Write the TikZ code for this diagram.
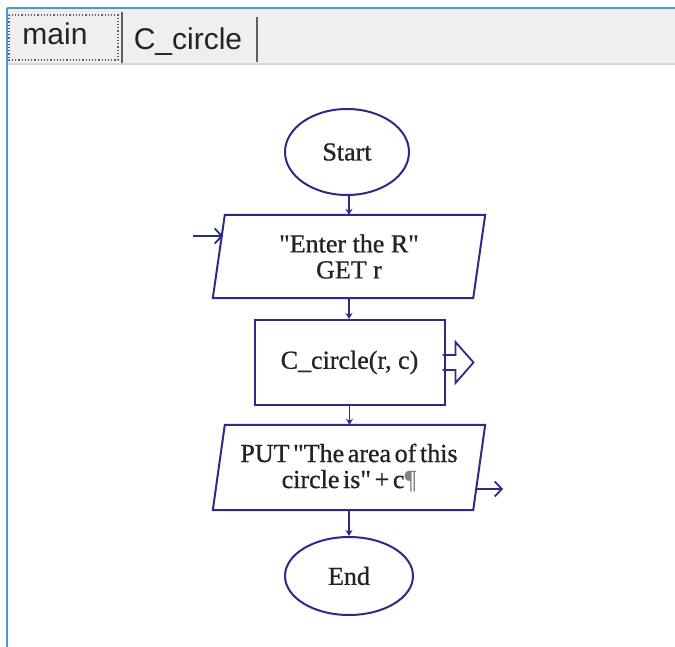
\documentclass[tikz,border=0pt]{standalone}
\usepackage{fontspec}
\setmainfont{Liberation Serif}[Ligatures=TeXOff]
\newfontfamily\flowfont{Liberation Serif}[Ligatures=TeXOff, FakeBold=0.8]
\newfontfamily\tabfont{Liberation Sans}
\usetikzlibrary{arrows.meta,shapes.geometric,calc}
\definecolor{navy}{RGB}{44,44,132}
\definecolor{winblue}{RGB}{75,150,215}
\definecolor{tabgray}{RGB}{239,239,239}
\definecolor{tabline}{RGB}{215,215,215}
\definecolor{tabedge}{RGB}{95,95,95}
\definecolor{inktext}{RGB}{35,35,35}
\newcommand\tightsp{\spaceskip=0.14em plus 0.05em\relax}
\begin{document}
\begin{tikzpicture}[x=1pt,y=-1pt,
  shapeline/.style={draw=navy,line width=2pt},
  flow/.style={draw=navy,line width=1.8pt,-{Stealth[length=6pt,width=7pt]}},
  openarrow/.style={draw=navy,line width=1.8pt,-{Straight Barb[length=7pt,width=15pt]}},
  ftext/.style={font=\flowfont\fontsize{26}{26}\selectfont, align=center, text=inktext},
  term/.style={ellipse, shapeline, ftext, inner sep=0pt},
  tabtext/.style={font=\tabfont\fontsize{30}{30}\selectfont, text=inktext, inner sep=0pt}
]
\useasboundingbox (0,0) rectangle (675,647);
\fill[white] (0,0) rectangle (675,647);
% window and tab bar
\fill[tabgray] (8,9) rectangle (675,63);
\draw[tabline, line width=1.2pt] (8,64) -- (675,64);
\draw[winblue, line width=2.2pt] (7,8) -- (675,8);
\draw[winblue, line width=2.2pt] (7,8) -- (7,647);
% tabs
\node[tabtext, anchor=base] (tabmain) at (55,45) {main};
\draw[dotted, tabedge, line width=1.2pt] (9,15) rectangle (118,60);
\draw[tabedge, line width=1.8pt] (122,12) -- (122,63);
\node[tabtext, anchor=base] (tabcircle) at (188,50) {C\_circle};
\draw[tabedge, line width=1.8pt] (257,17) -- (257,62);
% flowchart
\node[term, minimum width=124pt, minimum height=86pt] (start) at (347,152) {Start};
\node[ftext, minimum width=272pt, minimum height=83pt, inner sep=0pt] (in1) at (349,256.5) {"Enter the R"\\GET r};
\draw[shapeline] (in1.south west) -- ($(in1.north west)+(12,0)$) -- (in1.north east) -- ($(in1.south east)+(-12,0)$) -- cycle;
\node[shapeline, ftext, minimum width=190pt, minimum height=85pt, inner sep=0pt] (sub) at (349.5,362.5) {C\_circle(r, c)};
\draw[shapeline, line width=1.8pt] ($(sub.east)+(-3,-7.5)$) -- ++(13,0) -- ++(0,-13) -- ++(18,20.5) -- ++(-18,20.5) -- ++(0,-13) -- ++(-13,0);
\node[ftext, font=\flowfont\fontsize{26}{26}\selectfont\tightsp, minimum width=272pt, minimum height=85pt, inner sep=0pt] (out) at (349,467.5) {PUT "The area of this\\circle is" + c{\color{gray}¶}};
\draw[shapeline] (out.south west) -- ($(out.north west)+(12,0)$) -- (out.north east) -- ($(out.south east)+(-12,0)$) -- cycle;
\node[term, minimum width=128pt, minimum height=78pt] (end) at (349,576) {End};
% connectors
\draw[flow] (in1.north |- start.south) -- (in1.north);
\draw[flow] (in1.south) -- (in1.south |- sub.north);
\draw[flow] (sub.south) -- (sub.south |- out.north);
\draw[flow] (out.south) -- (out.south |- end.north);
\coordinate (inStart) at (193,236);
\coordinate (inL) at (223,236);
\draw[openarrow] (inStart) -- (inL);
\coordinate (outR) at (476,489);
\coordinate (outEnd) at (503,489);
\draw[openarrow] (outR) -- (outEnd);
\end{tikzpicture}
\end{document}
